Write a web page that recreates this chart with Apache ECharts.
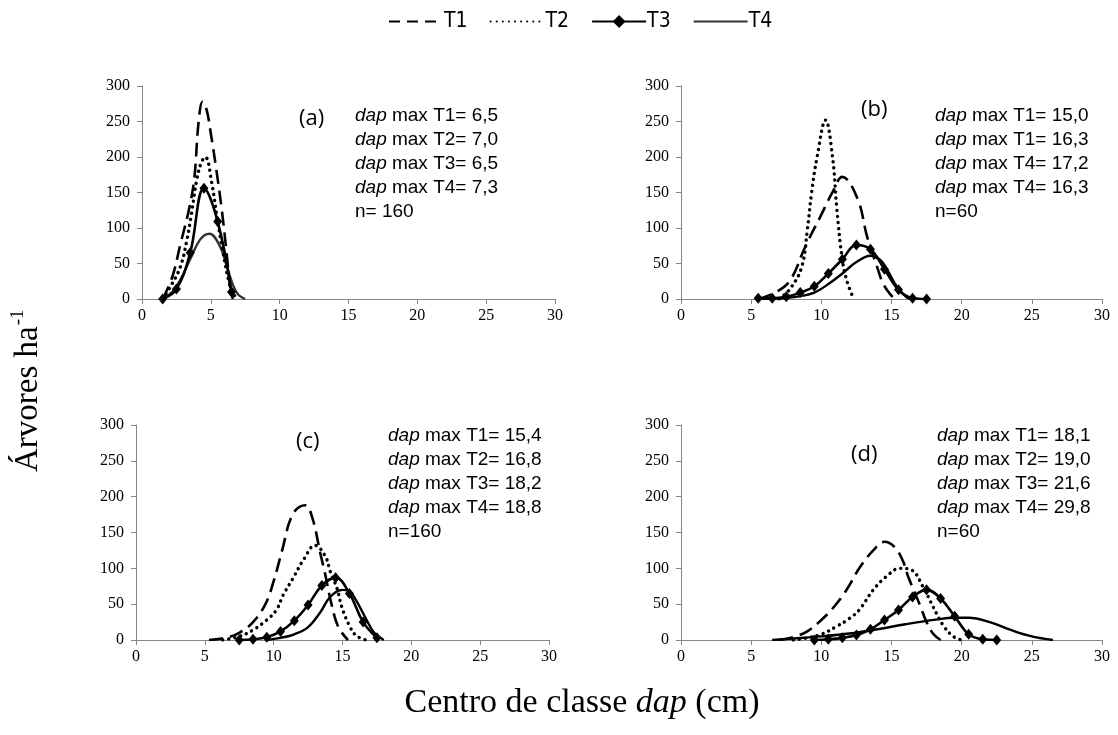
<!DOCTYPE html>
<html>
<head>
<meta charset="utf-8">
<script src="https://cdn.jsdelivr.net/npm/echarts@6/dist/echarts.min.js"></script>
<style>
  html, body { margin: 0; padding: 0; background: #fff; }
  #chart { width: 1118px; height: 735px; }
</style>
</head>
<body>
<div id="chart"></div>
<script>
// eixo x (centro de classe dap) e eixo y (árvores por ha)
const xTicks = [0, 5, 10, 15, 20, 25, 30];
const yTicks = [0, 50, 100, 150, 200, 250, 300];

// painel (a)
const t1A = [[1.5,0],[2.2,31],[2.8,78],[3.4,125],[3.8,170],[4.1,247],[4.4,278],[4.7,266],[5.0,233],[5.4,182],[5.8,125],[6.15,64],[6.4,17],[6.6,0]];
const t2A = [[1.5,0],[2.05,17],[2.78,45],[3.26,83],[3.6,121],[3.98,168],[4.3,192],[4.6,200],[5.07,163],[5.48,111],[5.9,64],[6.28,27],[6.6,8],[7.0,0]];
const t3A = [[1.5,0],[2.5,14],[3.5,65],[4.5,156],[5.5,109],[6.5,10]];
const t4A = [[1.5,0],[2.2,10],[2.78,27],[3.5,56],[4.23,84],[4.9,92],[5.67,74],[6.16,46],[6.64,18],[7.0,6],[7.5,0]];

// painel (b)
const t1B = [[5.5,0],[6.8,10],[7.8,27],[8.86,74],[9.93,116],[10.76,149],[11.5,172],[12.6,140],[13.26,88],[13.98,45],[14.45,20],[15.2,0]];
const t2B = [[7.0,0],[7.8,15],[8.6,45],[9.0,97],[9.3,149],[9.7,200],[10.3,252],[10.8,200],[11.1,128],[11.5,55],[11.8,27],[12.3,0]];
const t3B = [[5.5,1],[6.5,1],[7.5,3],[8.5,9],[9.5,18],[10.5,36],[11.5,56],[12.5,76],[13.5,70],[14.5,42],[15.5,13],[16.5,1],[17.5,0]];
const t4B = [[5.5,0],[6.5,0.5],[7.5,1.5],[8.5,4],[9.5,9],[10.5,21],[11.5,36],[12.5,52],[13.5,61],[14.2,55],[14.7,41],[15.4,17],[16.1,2],[16.5,0]];

// painel (c)
const t1C = [[5.3,0],[6.5,3],[7.5,10],[8.5,25],[9.4,50],[10.0,82],[10.6,124],[11.4,176],[12.3,188],[12.8,171],[13.4,120],[13.75,91],[14.2,50],[14.7,18],[15.4,0]];
const t2C = [[6.3,0],[7.5,5],[8.5,14],[9.5,28],[10.2,42],[10.7,63],[11.4,86],[12.2,113],[13.0,132],[13.75,117],[14.1,96],[14.6,72],[14.95,46],[15.5,20],[16.0,6],[16.7,0]];
const t3C = [[7.5,0],[8.5,1],[9.5,4],[10.5,12],[11.5,27],[12.5,49],[13.5,76],[14.5,87],[15.5,65],[16.5,25],[17.5,3]];
const t4C = [[9.5,0],[10.5,3],[11.5,8],[12.5,18],[13.4,39],[14.1,60],[15.0,70],[15.5,68],[16.0,55],[16.7,30],[17.3,10],[18.0,0]];

// painel (d)
const t1D = [[7.0,0],[8.0,4],[9.0,12],[10.0,28],[10.8,44],[11.8,70],[12.7,100],[13.7,125],[14.5,137],[15.2,130],[15.8,111],[16.2,88],[17.0,50],[17.5,25],[18.0,8],[18.5,0]];
const t2D = [[8.0,0],[9.0,3],[10.0,8],[11.0,18],[12.0,30],[12.7,42],[13.7,70],[14.6,88],[15.6,100],[16.4,98],[17.25,74],[18.0,45],[18.7,20],[19.4,5],[20.0,0]];
const t3D = [[9.5,0],[10.5,1],[11.5,3],[12.5,7],[13.5,15],[14.5,28],[15.5,42],[16.5,60],[17.5,70],[18.5,58],[19.5,33],[20.5,8],[21.5,1],[22.5,0]];
const t4D = [[6.5,0],[8.0,2],[10.0,5],[12.0,9],[14.0,15],[16.0,22],[18.0,28],[19.5,31],[20.5,31],[22.0,25],[23.5,14],[25.0,5],[26.5,0]];

// textos dos painéis
const panelLabels = ["(a)", "(b)", "(c)", "(d)"];
const dapTexts = [
  [["T1", "6,5"], ["T2", "7,0"], ["T3", "6,5"], ["T4", "7,3"]],
  [["T1", "15,0"], ["T1", "16,3"], ["T4", "17,2"], ["T4", "16,3"]],
  [["T1", "15,4"], ["T2", "16,8"], ["T3", "18,2"], ["T4", "18,8"]],
  [["T1", "18,1"], ["T2", "19,0"], ["T3", "21,6"], ["T4", "29,8"]]
];
const nTexts = ["n= 160", "n=60", "n=160", "n=60"];

const panelData = [
  [t1A, t2A, t3A, t4A],
  [t1B, t2B, t3B, t4B],
  [t1C, t2C, t3C, t4C],
  [t1D, t2D, t3D, t4D]
];

// layout
const grids = [
  { left: 142, top: 86, width: 413, height: 213 },
  { left: 681, top: 86, width: 421, height: 213 },
  { left: 136, top: 425, width: 413, height: 215 },
  { left: 681, top: 425, width: 421, height: 215 }
];
const labelPos = [[315, 122], [877, 113], [312, 445], [867, 458]];
const textPos = [[355, 106], [935, 106], [388, 426], [937, 426]];

const AXIS_GREY = "#868686";
const SERIF = "'Liberation Serif', 'Times New Roman', serif";
const SANS = "'Liberation Sans', Arial, sans-serif";

const chart = echarts.init(document.getElementById("chart"));

function styleFor(k, panel) {
  if (k === 0) return { type: [14, 7], width: 2.6, color: "#000", cap: "butt" };
  if (k === 1) return { type: [0.1, 6], width: 3.4, color: "#000", cap: "round" };
  if (k === 2) return { type: "solid", width: 2.6, color: "#000" };
  return { type: "solid", width: 2.4, color: panel === 0 ? "#333" : "#000" };
}

const names = ["T1", "T2", "T3", "T4"];
const series = [];
panelData.forEach((arr, p) => {
  arr.forEach((data, k) => {
    series.push({
      name: names[k],
      type: "line",
      xAxisIndex: p,
      yAxisIndex: p,
      data: data,
      smooth: 0.4,
      symbol: k === 2 ? "diamond" : "none",
      symbolSize: k === 2 ? [9, 11] : 0,
      showSymbol: k === 2,
      itemStyle: { color: "#000" },
      lineStyle: styleFor(k, p),
      z: 5 - k,
      silent: true
    });
  });
});

const graphics = [];
panelLabels.forEach((lab, p) => {
  graphics.push({
    type: "text",
    left: labelPos[p][0] - 16,
    top: labelPos[p][1] - 14,
    style: {
      text: lab,
      font: "22px 'Open Sans', 'Liberation Sans', sans-serif",
      fill: "#000"
    }
  });
  const lines = dapTexts[p].map((d) => `{i|dap}{n| max ${d[0]}= ${d[1]}}`);
  lines.push(`{n|${nTexts[p]}}`);
  graphics.push({
    type: "text",
    left: textPos[p][0],
    top: textPos[p][1],
    style: {
      text: lines.join("\n"),
      rich: {
        i: { fontFamily: SANS, fontSize: 19, fontStyle: "italic", lineHeight: 24, fill: "#000" },
        n: { fontFamily: SANS, fontSize: 19, lineHeight: 24, fill: "#000" }
      }
    }
  });
});

// títulos dos eixos
graphics.push({
  type: "text",
  rotation: Math.PI / 2,
  x: 9,
  y: 472,
  style: {
    text: "{a|Árvores ha}{s|-1}",
    rich: {
      a: { fontFamily: SERIF, fontSize: 33, fill: "#000", verticalAlign: "bottom", lineHeight: 36 },
      s: { fontFamily: SERIF, fontSize: 19, fill: "#000", verticalAlign: "top", lineHeight: 36, padding: [0, 0, 16, 1] }
    }
  }
});
graphics.push({
  type: "text",
  x: 582,
  y: 686,
  style: {
    text: "{a|Centro de classe }{i|dap}{a| (cm)}",
    align: "center",
    rich: {
      a: { fontFamily: SERIF, fontSize: 34, fill: "#000" },
      i: { fontFamily: SERIF, fontSize: 34, fontStyle: "italic", fill: "#000" }
    }
  }
});

// legenda: só T3 tem marcador
const legendData = names.map((n, k) => {
  if (k === 2) return { name: n };
  if (k === 0) return { name: n, itemStyle: { opacity: 0 }, lineStyle: { type: [11, 7] } };
  return { name: n, itemStyle: { opacity: 0 } };
});

const option = {
  animation: false,
  backgroundColor: "#fff",
  legend: {
    top: 6,
    left: 383,
    data: legendData,
    itemWidth: 54,
    itemHeight: 16,
    itemGap: 22,
    textStyle: { fontFamily: "'Liberation Sans Narrow', 'DejaVu Sans Condensed', sans-serif", fontSize: 21, color: "#000", padding: [0, 0, 0, -4] }
  },
  grid: grids.map((g) => Object.assign({ containLabel: false }, g)),
  xAxis: grids.map((g, p) => ({
    type: "value",
    gridIndex: p,
    min: xTicks[0],
    max: xTicks[xTicks.length - 1],
    interval: 5,
    axisLine: { show: true, lineStyle: { color: AXIS_GREY, width: 1 } },
    axisTick: { show: true, length: 5, lineStyle: { color: AXIS_GREY } },
    splitLine: { show: false },
    axisLabel: { fontFamily: SERIF, fontSize: 16, color: "#000", margin: 9 }
  })),
  yAxis: grids.map((g, p) => ({
    type: "value",
    gridIndex: p,
    min: yTicks[0],
    max: yTicks[yTicks.length - 1],
    interval: 50,
    axisLine: { show: true, lineStyle: { color: AXIS_GREY, width: 1 } },
    axisTick: { show: true, length: 5, lineStyle: { color: AXIS_GREY } },
    splitLine: { show: false },
    axisLabel: { fontFamily: SERIF, fontSize: 16, color: "#000", margin: 12 }
  })),
  series: series,
  graphic: graphics
};

chart.setOption(option);
</script>
</body>
</html>
